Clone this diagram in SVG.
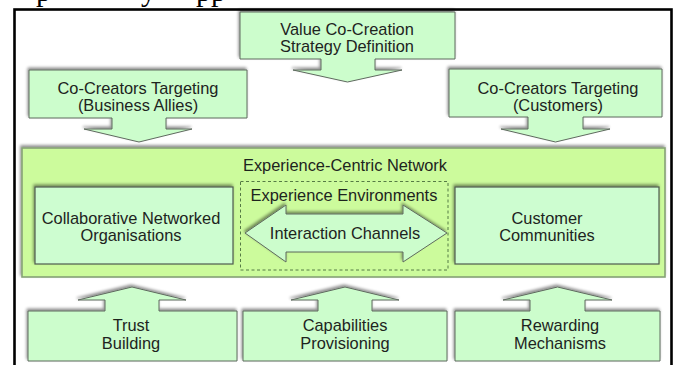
<svg xmlns="http://www.w3.org/2000/svg" width="677" height="365" viewBox="0 0 677 365">
  <defs>
    <filter id="shadow" x="-10%" y="-20%" width="120%" height="140%">
      <feGaussianBlur in="SourceAlpha" stdDeviation="1.8" result="blur"/>
      <feOffset in="blur" dx="-1" dy="-2" result="off"/>
      <feComponentTransfer in="off" result="soft">
        <feFuncA type="linear" slope="0.45"/>
      </feComponentTransfer>
      <feMerge>
        <feMergeNode in="soft"/>
        <feMergeNode in="SourceGraphic"/>
      </feMerge>
    </filter>
  </defs>
  <style>
    .callout { fill: #ccfdcc; stroke: #5f6a5f; stroke-width: 1; filter: url(#shadow); }
    .net { fill: #ccfb9c; stroke: #86a276; stroke-width: 1.6; filter: url(#shadow); }
    .inner { fill: #cdfdd0; stroke: #4f5a4f; stroke-width: 1.2; filter: url(#shadow); }
    .env { fill: none; stroke: #557a44; stroke-width: 1; stroke-dasharray: 3 2.5; }
    .lbl { font-family: "Liberation Sans", Arial, sans-serif; font-size: 16.4px; fill: #1e241e; text-anchor: middle; }
    .cut { font-family: "Liberation Serif", "Times New Roman", serif; font-size: 30px; fill: #000; }
  </style>

  <rect width="677" height="365" fill="#ffffff"/>

  <!-- line of body text above the frame, mostly cut off -->
  <text class="cut" x="36" y="1">p</text>
  <text class="cut" x="141" y="1">y</text>
  <text class="cut" x="196" y="1">pp</text>

  <!-- outer frame -->
  <rect x="14.5" y="9.5" width="657" height="400" fill="none" stroke="#000" stroke-width="2.6"/>

  <!-- central network container -->
  <g id="network">
    <rect class="net" x="22" y="148" width="643" height="129"/>
    <text class="lbl" x="345" y="171">Experience-Centric Network</text>
  </g>

  <g id="cno">
    <rect class="inner" x="35" y="187" width="198" height="77"/>
    <text class="lbl" x="131" y="224">Collaborative Networked</text>
    <text class="lbl" x="131" y="241">Organisations</text>
  </g>

  <g id="communities">
    <rect class="inner" x="455" y="187" width="204" height="77"/>
    <text class="lbl" x="547" y="224">Customer</text>
    <text class="lbl" x="547" y="241">Communities</text>
  </g>

  <g id="environments">
    <rect class="env" x="240.5" y="181.5" width="207.5" height="88.5"/>
    <text class="lbl" x="344" y="201">Experience Environments</text>
  </g>

  <g id="channels">
    <path class="callout" d="M245,233 L286,205 V214 H403 V205 L447,233 L403,262 V252 H286 V262 Z"/>
    <text class="lbl" x="345" y="239">Interaction Channels</text>
  </g>

  <!-- box-and-arrow callouts feeding the network -->
  <g id="connectors">
    <g id="strategy">
      <path class="callout" d="M240,12 H455 V59 H375 V70 H402 L347.5,82 L293,70 H321 V59 H240 Z"/>
      <text class="lbl" x="347" y="35">Value Co-Creation</text>
      <text class="lbl" x="347" y="52">Strategy Definition</text>
    </g>
    <g id="allies">
      <path class="callout" d="M29,70 H247 V118 H166 V129 H192 L139,142 L84,129 H112 V118 H29 Z"/>
      <text class="lbl" x="138" y="94">Co-Creators Targeting</text>
      <text class="lbl" x="138" y="111">(Business Allies)</text>
    </g>
    <g id="customers">
      <path class="callout" d="M449,69 H662 V117 H583 V129 H610 L555.5,142 L501,129 H528 V117 H449 Z"/>
      <text class="lbl" x="558" y="94">Co-Creators Targeting</text>
      <text class="lbl" x="558" y="111">(Customers)</text>
    </g>
    <g id="trust">
      <path class="callout" d="M28,311 H105 V300 H78 L132,287 L186,300 H159 V311 H237 V361 H28 Z"/>
      <text class="lbl" x="131" y="331">Trust</text>
      <text class="lbl" x="131" y="349">Building</text>
    </g>
    <g id="capabilities">
      <path class="callout" d="M243,311 H318 V300 H291 L345,287 L399,300 H372 V311 H447 V361 H243 Z"/>
      <text class="lbl" x="345" y="331">Capabilities</text>
      <text class="lbl" x="345" y="349">Provisioning</text>
    </g>
    <g id="rewarding">
      <path class="callout" d="M455,311 H530 V300 H503 L557.5,287 L612,300 H585 V311 H660 V361 H455 Z"/>
      <text class="lbl" x="560" y="331">Rewarding</text>
      <text class="lbl" x="560" y="349">Mechanisms</text>
    </g>
  </g>
</svg>
